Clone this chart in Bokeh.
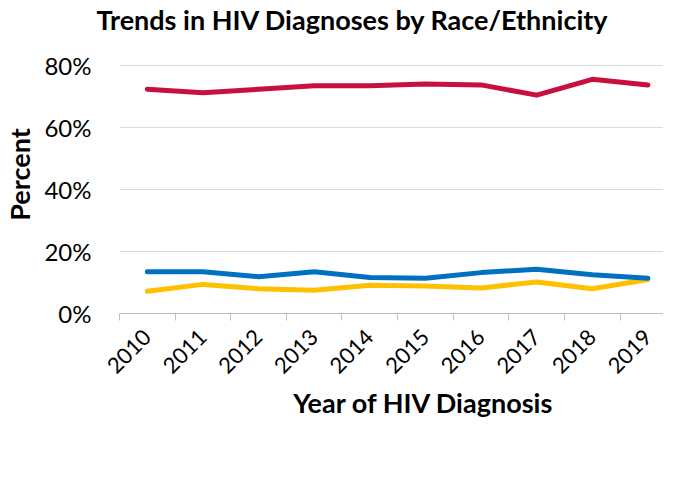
import math
from bokeh.plotting import figure
from bokeh.models import Range1d, FixedTicker, PrintfTickFormatter, Legend, LegendItem
from bokeh.embed import file_html
from bokeh.resources import INLINE

# ---- data ----
years = [2010, 2011, 2012, 2013, 2014, 2015, 2016, 2017, 2018, 2019]
hispanic = [7.2, 9.4, 8.0, 7.5, 9.1, 8.9, 8.2, 10.2, 8.0, 11.0]
nh_black = [72.4, 71.3, 72.4, 73.5, 73.5, 74.1, 73.8, 70.5, 75.6, 73.8]
nh_white = [13.5, 13.5, 11.9, 13.5, 11.6, 11.4, 13.2, 14.3, 12.5, 11.4]
y_ticks = [0, 20, 40, 60, 80]
series_names = ["Hispanic", "NH-Black", "NH-White"]
series_colors = ["#FFC000", "#C8103E", "#0070C0"]

FONT = "Lato"
LABEL_SIZE = "27px"

p = figure(frame_width=544, frame_height=278, output_backend="svg", toolbar_location=None,
           x_range=Range1d(2009.5, 2019.28), y_range=Range1d(0, 89.75),
           min_border_left=0, min_border_right=0, min_border_top=0,
           min_border_bottom=0,
           title="Trends in HIV Diagnoses by Race/Ethnicity")
p.outline_line_color = None
p.background_fill_color = "white"
p.border_fill_color = "white"

p.title.text_font = FONT
p.title.text_font_size = LABEL_SIZE
p.title.text_font_style = "bold"
p.title.text_color = "#000000"
p.title.align = "left"
p.title.offset = -23
p.title.standoff = 0

# x axis
xa = p.xaxis[0]
xa.ticker = FixedTicker(ticks=years, minor_ticks=[y - 0.5 for y in years] + [years[-1] + 0.5])
xa.major_tick_line_color = None
xa.major_tick_in = 0
xa.major_tick_out = 0
xa.minor_tick_line_color = "#BFBFBF"
xa.minor_tick_line_width = 1
xa.minor_tick_in = 0
xa.minor_tick_out = 7
xa.axis_line_color = "#BFBFBF"
xa.axis_line_width = 1
xa.major_label_orientation = math.pi / 4
xa.major_label_standoff = 13
xa.major_label_text_font = FONT
xa.major_label_text_font_size = "22px"
xa.major_label_text_color = "#000000"
xa.axis_label = "\u00a0" * 10 + "Year of HIV Diagnosis"
xa.axis_label_text_font = FONT
xa.axis_label_text_font_size = LABEL_SIZE
xa.axis_label_text_font_style = "bold"
xa.axis_label_text_color = "#000000"
xa.axis_label_standoff = 3

# y axis
ya = p.yaxis[0]
ya.ticker = FixedTicker(ticks=y_ticks, minor_ticks=[])
ya.formatter = PrintfTickFormatter(format="%d%%")
ya.axis_line_color = None
ya.major_tick_line_color = None
ya.major_tick_in = 0
ya.major_tick_out = 0
ya.minor_tick_line_color = None
ya.major_label_standoff = 28
ya.major_label_text_font = FONT
ya.major_label_text_font_size = "24px"
ya.major_label_text_color = "#000000"
ya.axis_label = "Percent"
ya.axis_label_text_font = FONT
ya.axis_label_text_font_size = LABEL_SIZE
ya.axis_label_text_font_style = "bold"
ya.axis_label_text_color = "#000000"
ya.axis_label_standoff = 5

p.xgrid.grid_line_color = None
p.ygrid.ticker = FixedTicker(ticks=y_ticks)
p.ygrid.grid_line_color = "#D9D9D9"
p.ygrid.grid_line_width = 1

items = []
for name, vals, col in zip(series_names, [hispanic, nh_black, nh_white], series_colors):
    r = p.line(years, vals, line_color=col, line_width=5, line_join="round", line_cap="round")
    items.append(LegendItem(label=name, renderers=[r]))

legend = Legend(items=items, orientation="horizontal", location="center",
                glyph_width=54, glyph_height=20, label_standoff=4, spacing=19,
                label_text_font=FONT, label_text_font_size="22px", label_text_color="#000000",
                border_line_color=None, background_fill_alpha=0, padding=0, margin=2)
p.add_layout(legend, "below")

open("out.html", "w").write(file_html(p, INLINE))
